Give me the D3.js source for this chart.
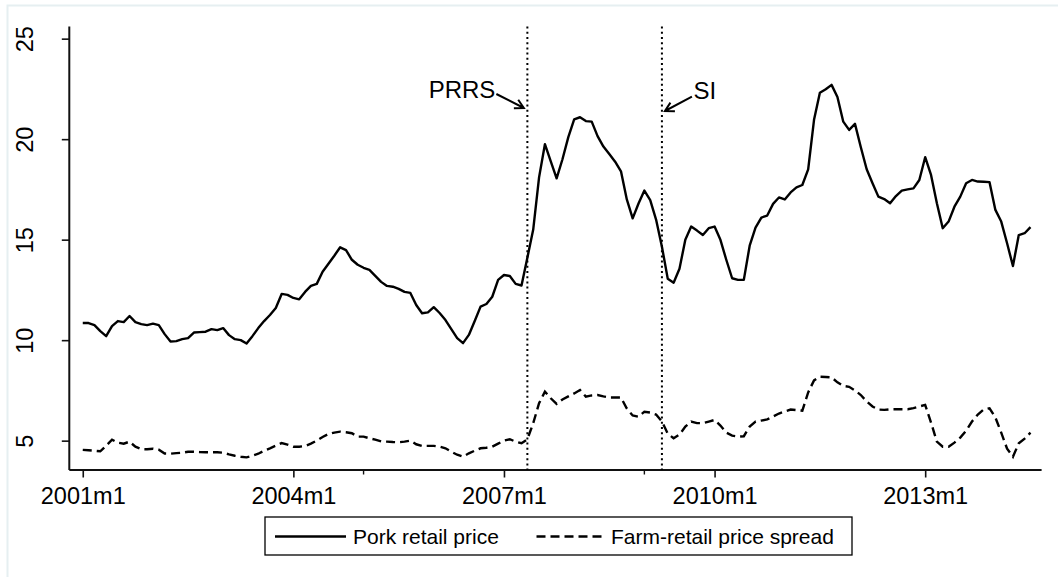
<!DOCTYPE html>
<html>
<head>
<meta charset="utf-8">
<script src="https://cdn.jsdelivr.net/npm/d3@7"></script>
<style>
  html, body { margin: 0; padding: 0; background: #fff; }
  svg { display: block; font-family: "Liberation Sans", Arial, sans-serif; }
</style>
</head>
<body>
<svg id="chart" width="1058" height="577"></svg>
<script>
// Monthly series, 2001m1 .. 2014m7
const startYear = 2001;
const pork = [
  10.85, 10.85, 10.75, 10.45, 10.2, 10.7, 10.95, 10.9, 11.2, 10.9, 10.8, 10.75,
  10.82, 10.75, 10.3, 9.93, 9.95, 10.05, 10.1, 10.38, 10.4, 10.42, 10.55, 10.5,
  10.6, 10.25, 10.05, 10.0, 9.83, 10.2, 10.6, 10.95, 11.25, 11.6, 12.3, 12.25,
  12.1, 12.03, 12.4, 12.7, 12.8, 13.4, 13.8, 14.2, 14.62, 14.48, 14.0, 13.75,
  13.6, 13.5, 13.2, 12.9, 12.7, 12.66, 12.55, 12.4, 12.35, 11.75, 11.34, 11.38,
  11.64, 11.35, 11.0, 10.55, 10.1, 9.85, 10.26, 10.95, 11.67, 11.8, 12.16, 13.0,
  13.24, 13.19, 12.8, 12.72, 14.1, 15.5, 18.1, 19.75, 18.9, 18.05, 19.0, 20.1,
  20.99, 21.09, 20.9, 20.87, 20.15, 19.63, 19.26, 18.88, 18.4, 17.0, 16.06, 16.8,
  17.44, 16.97, 16.0, 14.65, 13.05, 12.86, 13.55, 15.0, 15.65, 15.45, 15.23, 15.57,
  15.65, 14.99, 14.0, 13.08, 13.0, 13.0, 14.7, 15.6, 16.1, 16.2, 16.78, 17.1,
  17.0, 17.35, 17.6, 17.72, 18.5, 20.96, 22.31, 22.48, 22.7, 22.1, 20.87, 20.46,
  20.76, 19.6, 18.5, 17.81, 17.14, 17.02, 16.81, 17.17, 17.44, 17.5, 17.55, 17.97,
  19.1, 18.22, 16.81, 15.57, 15.9, 16.64, 17.14, 17.81, 17.97, 17.89, 17.88, 17.86,
  16.48, 15.9, 14.82, 13.69, 15.23, 15.32, 15.62
];
const spread = [
  4.54, 4.52, 4.5, 4.47, 4.75, 5.05, 4.9, 4.85, 4.95, 4.7, 4.58, 4.57,
  4.6, 4.55, 4.36, 4.35, 4.38, 4.4, 4.45, 4.45, 4.43, 4.42, 4.42, 4.42,
  4.4, 4.32, 4.25, 4.2, 4.17, 4.25, 4.35, 4.5, 4.62, 4.75, 4.88, 4.8,
  4.7, 4.7, 4.73, 4.85, 5.0, 5.18, 5.33, 5.4, 5.45, 5.42, 5.37, 5.2,
  5.2, 5.12, 5.05, 4.96, 4.95, 4.93, 4.92, 4.95, 5.0, 4.82, 4.74, 4.74,
  4.74, 4.7, 4.62, 4.45, 4.3, 4.2, 4.37, 4.5, 4.62, 4.65, 4.7, 4.85,
  5.0, 5.07, 4.95, 4.87, 5.07, 5.87, 6.86, 7.44, 7.11, 6.83, 7.05, 7.2,
  7.35, 7.52, 7.19, 7.25, 7.27, 7.2, 7.15, 7.15, 7.15, 6.6, 6.25, 6.19,
  6.44, 6.4, 6.3, 5.95, 5.35, 5.12, 5.3, 5.7, 5.95, 5.87, 5.87, 5.95,
  6.03, 5.75, 5.4, 5.25, 5.2, 5.22, 5.7, 5.95, 6.0, 6.06, 6.2, 6.35,
  6.45, 6.55, 6.52, 6.49, 7.4, 8.0, 8.18, 8.17, 8.15, 7.9, 7.72, 7.68,
  7.5, 7.27, 6.95, 6.7, 6.55, 6.53, 6.56, 6.56, 6.56, 6.56, 6.62, 6.7,
  6.78, 5.9, 4.95, 4.7, 4.7, 4.9, 5.15, 5.5, 5.95, 6.3, 6.55, 6.61,
  6.15, 5.4, 4.6, 4.2, 4.87, 5.1, 5.4
];
const seriesNames = ["Pork retail price", "Farm-retail price spread"];
const xTickMonths = ["2001m1", "2004m1", "2007m1", "2010m1", "2013m1"];
const xMinorMonths = ["2005m1", "2009m1"];
const yTicks = [5, 10, 15, 20, 25];
const eventLabels = ["PRRS", "SI"];
const eventMonths = ["2007m5", "2009m4"];

// "2007m5" -> months since 2001m1
const toIndex = s => {
  const [y, m] = s.split("m").map(Number);
  return (y - startYear) * 12 + (m - 1);
};
const toLabel = i => `${startYear + Math.floor(i / 12)}m${(i % 12) + 1}`;

const svg = d3.select("#chart");

// faint outer frame of the graph region
svg.append("rect")
  .attr("x", 7.5).attr("y", 5.5).attr("width", 1100).attr("height", 620)
  .attr("fill", "#fff").attr("stroke", "#e6eff1").attr("stroke-width", 2);

const x = d3.scaleLinear().domain([-2.3, 163.9]).range([69.3, 1041.6]);
const y = d3.scaleLinear().domain([3.54, 25.6]).range([470, 26.6]);

const axisColor = "#111";

// y axis
const yAxis = svg.append("g").attr("transform", `translate(${x.range()[0]},0)`)
  .call(d3.axisLeft(y).tickValues(yTicks).tickSize(7.5).tickFormat(d3.format("d")));
yAxis.select(".domain").attr("stroke", axisColor).attr("stroke-width", 2)
  .attr("d", `M0,${y.range()[0]}V${y.range()[1]}`);
yAxis.selectAll(".tick line").attr("stroke", axisColor).attr("stroke-width", 1.6);
yAxis.selectAll(".tick text").remove();
yAxis.selectAll(".tick").append("text")
  .attr("transform", `translate(${33 - x.range()[0]},0) rotate(-90)`)
  .attr("text-anchor", "middle")
  .attr("fill", "#000")
  .style("font-size", "23.5px")
  .style("font-family", "Liberation Sans, Arial, sans-serif")
  .text(d => d);

// x axis
const xAxis = svg.append("g").attr("transform", `translate(0,${y.range()[0]})`)
  .call(d3.axisBottom(x).tickValues(xTickMonths.map(toIndex)).tickSize(7.5).tickFormat(toLabel));
xAxis.select(".domain").attr("stroke", axisColor).attr("stroke-width", 2)
  .attr("d", `M${x.range()[0]},0H${x.range()[1]}`);
xAxis.selectAll(".tick line").attr("stroke", axisColor).attr("stroke-width", 1.6);
xAxis.selectAll(".tick text")
  .attr("y", 34).attr("dy", 0)
  .attr("fill", "#000")
  .style("font-size", "23.5px")
  .style("font-family", "Liberation Sans, Arial, sans-serif");
svg.append("g").selectAll("line").data(xMinorMonths.map(toIndex)).join("line")
  .attr("x1", d => x(d)).attr("x2", d => x(d))
  .attr("y1", y.range()[0]).attr("y2", y.range()[0] + 4.5)
  .attr("stroke", axisColor).attr("stroke-width", 1.4);

// event reference lines
const evIdx = eventMonths.map(toIndex);
svg.append("g").selectAll("line").data(evIdx).join("line")
  .attr("x1", d => x(d)).attr("x2", d => x(d))
  .attr("y1", y.range()[1]).attr("y2", y.range()[0])
  .attr("stroke", "#000").attr("stroke-width", 2)
  .attr("stroke-dasharray", "2,3.2");

// series lines
const line = d3.line().x((d, i) => x(i)).y(d => y(d));
svg.append("path").datum(pork)
  .attr("d", line).attr("fill", "none")
  .attr("stroke", "#000").attr("stroke-width", 2.4).attr("stroke-linejoin", "round");
svg.append("path").datum(spread)
  .attr("d", line).attr("fill", "none")
  .attr("stroke", "#000").attr("stroke-width", 2.4)
  .attr("stroke-dasharray", "9,5");

// annotations with arrows
function arrow(x0, y0, x1, y1) {
  const ang = Math.atan2(y1 - y0, x1 - x0);
  const L = 10, h = 0.5;
  const a1 = [x1 - L * Math.cos(ang - h), y1 - L * Math.sin(ang - h)];
  const a2 = [x1 - L * Math.cos(ang + h), y1 - L * Math.sin(ang + h)];
  svg.append("path")
    .attr("d", `M${x0},${y0}L${x1},${y1}M${a1[0]},${a1[1]}L${x1},${y1}L${a2[0]},${a2[1]}`)
    .attr("fill", "none").attr("stroke", "#000").attr("stroke-width", 2);
}
const prrsX = x(evIdx[0]), siX = x(evIdx[1]);
svg.append("text").attr("x", prrsX - 32).attr("y", 97.5)
  .attr("text-anchor", "end").style("font-size", "24px").text(eventLabels[0]);
arrow(prrsX - 31, 94, prrsX - 3.5, 108);
svg.append("text").attr("x", siX + 31.5).attr("y", 98.5)
  .attr("text-anchor", "start").style("font-size", "24px").text(eventLabels[1]);
arrow(siX + 30, 96.7, siX + 3, 111);

// legend
const lg = svg.append("g");
lg.append("rect").attr("x", 265).attr("y", 517).attr("width", 587).attr("height", 38)
  .attr("fill", "#fff").attr("stroke", "#000").attr("stroke-width", 1.3);
const legendItems = [
  { name: seriesNames[0], x0: 275, x1: 346, dash: null },
  { name: seriesNames[1], x0: 536.5, x1: 604, dash: "9,5" }
];
legendItems.forEach(it => {
  lg.append("line").attr("x1", it.x0).attr("x2", it.x1).attr("y1", 536.5).attr("y2", 536.5)
    .attr("stroke", "#000").attr("stroke-width", 2.4)
    .attr("stroke-dasharray", it.dash);
  lg.append("text").attr("x", it.x1 + 7).attr("y", 544)
    .style("font-size", "21px").text(it.name);
});
</script>
</body>
</html>
